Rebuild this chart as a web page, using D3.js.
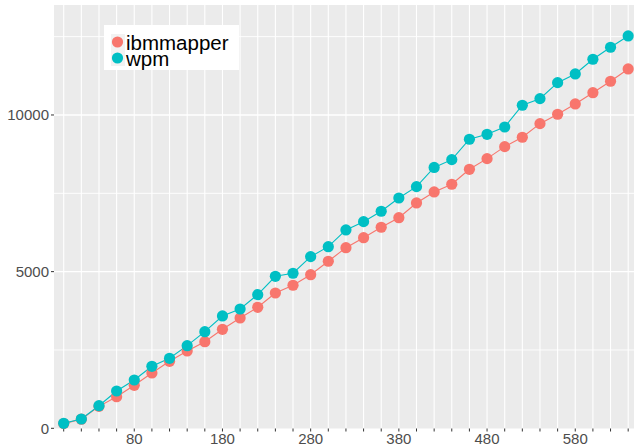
<!DOCTYPE html>
<html>
<head>
<meta charset="utf-8">
<script src="https://cdn.jsdelivr.net/npm/d3@7"></script>
<style>
  body { margin: 0; background: #ffffff; }
  svg { display: block; font-family: "Liberation Sans", Arial, sans-serif; }
  .tick-label { fill: #4d4d4d; font-size: 15px; }
</style>
</head>
<body>
<svg id="vis" width="634" height="446"></svg>
<script>
// x positions (step 20)
const steps = d3.range(0, 641, 20);
const xLabels = [80, 180, 280, 380, 480, 580];
const yMajor = [0, 5000, 10000];
const yMinor = [2500, 7500, 12500];

const seriesNames = ["ibmmapper", "wpm"];
const ibmmapper = [150, 290, 700, 1009, 1373, 1765, 2139, 2467, 2764, 3160, 3521, 3862,
  4319, 4565, 4903, 5331, 5765, 6084, 6416, 6722, 7192, 7543, 7789, 8267, 8606,
  8989, 9289, 9723, 10023, 10352, 10712, 11076, 11469];
const wpm = [160, 297, 721, 1191, 1542, 1979, 2234, 2637, 3084, 3585, 3808, 4265,
  4852, 4948, 5478, 5797, 6330, 6595, 6927, 7351, 7712, 8325, 8574, 9225, 9384,
  9617, 10310, 10521, 11032, 11309, 11778, 12162, 12522];
const colors = ["#F8766D", "#00BFC4"];

function drawChart() {
  const svg = d3.select("svg#vis");
  const panel = { left: 54, right: 637, top: 5, bottom: 428.5 };

  const x = d3.scaleLinear().domain([-11, 650]).range([panel.left, panel.right]);
  const y = d3.scaleLinear().domain([0, 13510]).range([428.3, panel.top]);

  // panel background
  svg.append("rect")
    .attr("x", panel.left)
    .attr("y", panel.top)
    .attr("width", panel.right - panel.left)
    .attr("height", panel.bottom - panel.top)
    .attr("fill", "#ebebeb");

  const grid = svg.append("g").attr("stroke", "#ffffff");

  grid.selectAll("line.ymin")
    .data(yMinor)
    .enter()
    .append("line")
    .attr("x1", panel.left).attr("x2", panel.right)
    .attr("y1", d => y(d)).attr("y2", d => y(d))
    .attr("stroke-width", 0.9);

  grid.selectAll("line.ymaj")
    .data(yMajor.filter(d => d > 0))
    .enter()
    .append("line")
    .attr("x1", panel.left).attr("x2", panel.right)
    .attr("y1", d => y(d)).attr("y2", d => y(d))
    .attr("stroke-width", 1.4);

  grid.selectAll("line.x")
    .data(steps)
    .enter()
    .append("line")
    .attr("x1", d => x(d)).attr("x2", d => x(d))
    .attr("y1", panel.top).attr("y2", panel.bottom)
    .attr("stroke-width", 1.1);

  // axes ticks
  const axes = svg.append("g").attr("stroke", "#333333").attr("stroke-width", 1);
  axes.selectAll("line.xt")
    .data(steps)
    .enter()
    .append("line")
    .attr("x1", d => x(d)).attr("x2", d => x(d))
    .attr("y1", panel.bottom).attr("y2", panel.bottom + 3);
  axes.selectAll("line.yt")
    .data(yMajor)
    .enter()
    .append("line")
    .attr("x1", panel.left - 3).attr("x2", panel.left)
    .attr("y1", d => y(d)).attr("y2", d => y(d));

  svg.selectAll("text.xl")
    .data(xLabels)
    .enter()
    .append("text")
    .attr("class", "tick-label")
    .attr("x", d => x(d))
    .attr("y", 444)
    .attr("text-anchor", "middle")
    .text(d => d);

  svg.selectAll("text.yl")
    .data(yMajor)
    .enter()
    .append("text")
    .attr("class", "tick-label")
    .attr("x", panel.left - 5)
    .attr("y", d => y(d))
    .attr("dy", "0.36em")
    .attr("text-anchor", "end")
    .text(d => d);

  // series
  const data = [ibmmapper, wpm].map((vals, i) => ({
    name: seriesNames[i],
    color: colors[i],
    values: vals.map((v, j) => ({ x: steps[j], y: v }))
  }));

  const line = d3.line().x(d => x(d.x)).y(d => y(d.y));

  svg.append("g").selectAll("path")
    .data(data)
    .enter()
    .append("path")
    .attr("d", d => line(d.values))
    .attr("fill", "none")
    .attr("stroke", d => d.color)
    .attr("stroke-width", 1.1);

  data.forEach(function(s) {
    svg.append("g").selectAll("circle")
      .data(s.values)
      .enter()
      .append("circle")
      .attr("cx", d => x(d.x))
      .attr("cy", d => y(d.y))
      .attr("r", 5.6)
      .attr("fill", s.color);
  });

  // legend
  const legend = svg.append("g").attr("transform", "translate(104,25)");
  legend.append("rect")
    .attr("width", 135).attr("height", 45)
    .attr("fill", "#ffffff");

  const items = legend.selectAll("g.item")
    .data(data)
    .enter()
    .append("g")
    .attr("transform", (d, i) => "translate(0," + (17 + i * 16) + ")");

  items.append("rect")
    .attr("x", 7).attr("y", -8)
    .attr("width", 14).attr("height", 16)
    .attr("fill", "#f2f2f2");
  items.append("circle")
    .attr("cx", 13.5).attr("cy", 0)
    .attr("r", 5.6)
    .attr("fill", d => d.color);
  items.append("text")
    .attr("x", 22)
    .attr("y", 7.5)
    .attr("font-size", "20.5px")
    .attr("fill", "#000000")
    .text(d => d.name);
}

drawChart();
</script>
</body>
</html>
